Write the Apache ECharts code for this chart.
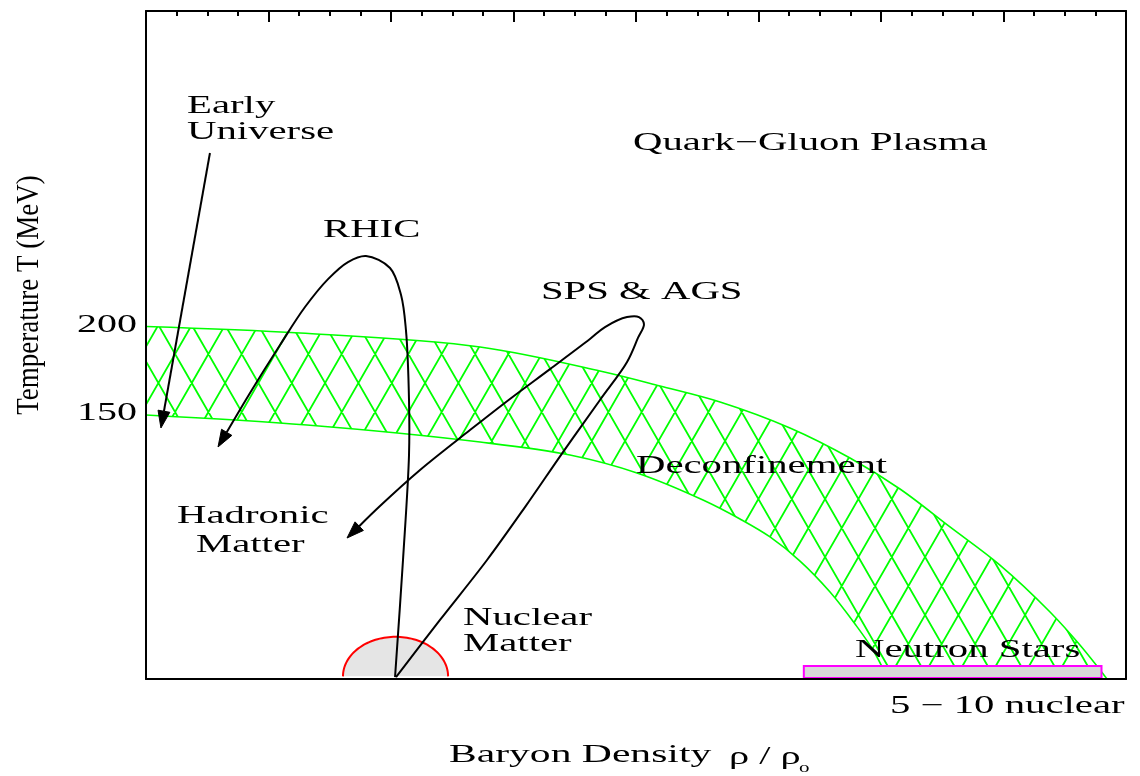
<!DOCTYPE html>
<html>
<head>
<meta charset="utf-8">
<script src="https://cdn.jsdelivr.net/npm/echarts@6/dist/echarts.min.js"></script>
<style>
html,body{margin:0;padding:0;background:#fff;}
#chart{width:1140px;height:776px;}
</style>
</head>
<body>
<div id="chart"></div>
<script>
// ---- data (x: baryon density rho/rho0, T: temperature MeV) ----
const upperX = [0, 1.257, 2.727, 3.706, 4.196, 4.686, 5.257, 5.747, 6.155, 6.563, 6.971, 7.380, 7.624, 7.845];
const upperT = [200.5, 196.8, 188.9, 175.2, 166.7, 157.6, 142.8, 125.7, 108.1, 86.5, 64.8, 38.1, 19.3, 0];
const lowerX = [0, 1.314, 2.727, 3.461, 4.008, 4.547, 4.849, 5.094, 5.339, 5.584, 5.788, 5.935, 6.057];
const lowerT = [150.2, 144.5, 134.8, 127.4, 117.2, 101.8, 91.0, 80.8, 67.1, 49.5, 31.3, 16.5, 0];

const earlyX = [0.522, 0.122];
const earlyT = [299.2, 142.8];
const rhicX = [2.033, 2.098, 2.147, 2.147, 2.122, 2.082, 1.992, 1.796, 1.649, 1.486, 1.298, 1.094, 0.849, 0.588];
const rhicT = [1.1, 67.7, 127.4, 158.7, 198.5, 218.4, 233.8, 240.6, 237.2, 227.5, 211.6, 190.0, 162.7, 132.0];
const spsX = [2.041, 2.400, 2.784, 3.094, 3.404, 3.706, 3.927, 4.016, 4.065, 4.024, 3.927, 3.747, 3.624, 3.298, 2.971, 2.645, 2.237, 1.910, 1.641];
const spsT = [1.1, 33.6, 67.7, 97.8, 129.1, 158.7, 180.3, 194.0, 201.9, 205.9, 205.9, 200.2, 193.4, 176.3, 159.3, 141.6, 118.9, 98.4, 80.2];

const nuclearCenter = [2.037, 1.5];
const nuclearRadius = [0.429, 22.5];
const neutronX = [5.37, 7.80];
const neutronT = [0.6, 7.4];

const yTickLabels = [150, 200];

const labelTexts = ['Early\nUniverse', 'Quark\u2212Gluon Plasma', 'RHIC', 'SPS & AGS', 'Deconfinement', 'Hadronic', 'Matter', 'Nuclear\nMatter', 'Neutron Stars'];
const labelX = [0.335, 3.976, 1.445, 3.224, 4.0, 0.253, 0.408, 2.588, 5.788];
const labelT = [318.5, 304.9, 255.4, 220.1, 121.2, 92.7, 76.2, 27.0, 16.5];

// ---- styling helpers ----
const SERIF = 'Liberation Serif';
const SX = 1.63;

function makeHatch() {
  const w = 100, h = 58, cw = w / 3;
  const cv = document.createElement('canvas');
  cv.width = w; cv.height = h;
  const ctx = cv.getContext('2d');
  ctx.strokeStyle = '#00ff00';
  ctx.lineWidth = 1.8;
  const ox = 8.4, oy = 6, s = cw / h;
  ctx.beginPath();
  for (let k = -8; k <= 12; k++) {
    const x0 = ox + k * cw;
    ctx.moveTo(x0 + s * (-h - oy), -h); ctx.lineTo(x0 + s * (2 * h - oy), 2 * h);
    ctx.moveTo(x0 - s * (-h - oy), -h); ctx.lineTo(x0 - s * (2 * h - oy), 2 * h);
  }
  ctx.stroke();
  return cv;
}
const hatch = makeHatch();

// centripetal Catmull-Rom through pixel points -> SVG path commands (no leading M)
function crSegments(p) {
  let d = '';
  const n = p.length;
  if (n === 2) return ' L' + p[1][0] + ' ' + p[1][1];
  const dist = (a, b) => Math.pow(Math.hypot(a[0] - b[0], a[1] - b[1]), 0.5);
  for (let i = 0; i < n - 1; i++) {
    const p0 = p[i - 1] || p[i], p1 = p[i], p2 = p[i + 1], p3 = p[i + 2] || p[i + 1];
    const d1 = dist(p0, p1), d2 = dist(p1, p2), d3 = dist(p2, p3);
    let c1, c2;
    if (d1 < 1e-6) c1 = p1.slice();
    else {
      const a = d1 * d1, b = d2 * d2, den = 3 * d1 * (d1 + d2);
      c1 = [0, 1].map(k => (a * p2[k] - b * p0[k] + (2 * a + 3 * d1 * d2 + b) * p1[k]) / den);
    }
    if (d3 < 1e-6) c2 = p2.slice();
    else {
      const a = d3 * d3, b = d2 * d2, den = 3 * d3 * (d3 + d2);
      c2 = [0, 1].map(k => (a * p1[k] - b * p3[k] + (2 * a + 3 * d3 * d2 + b) * p2[k]) / den);
    }
    d += ' C' + c1[0] + ' ' + c1[1] + ' ' + c2[0] + ' ' + c2[1] + ' ' + p2[0] + ' ' + p2[1];
  }
  return d;
}
function crPath(p) { return 'M' + p[0][0] + ' ' + p[0][1] + crSegments(p); }

function arrowSeries(name, xs, ts) {
  return {
    type: 'custom', name: name, coordinateSystem: 'cartesian2d', z: 6, silent: true, clip: false,
    data: xs.map((x, i) => [x, ts[i]]),
    renderItem: function (params, api) {
      if (params.dataIndex !== 0) return null;
      const pts = xs.map((x, i) => api.coord([x, ts[i]]));
      const n = pts.length;
      const tip = pts[n - 1], prev = pts[n - 2];
      let dx = tip[0] - prev[0], dy = tip[1] - prev[1];
      const len = Math.hypot(dx, dy); dx /= len; dy /= len;
      const L = 17, W = 6;
      const base = [tip[0] - dx * L, tip[1] - dy * L];
      const linePts = pts.slice(0, n - 1).concat([base]);
      return {
        type: 'group',
        children: [
          { type: 'path', shape: { pathData: crPath(linePts) }, style: { stroke: '#000', lineWidth: 2, fill: null } },
          { type: 'polygon', shape: { points: [tip, [base[0] - dy * W, base[1] + dx * W], [base[0] + dy * W, base[1] - dx * W]] }, style: { fill: '#000', stroke: '#000', lineWidth: 1 } }
        ]
      };
    }
  };
}

const chart = echarts.init(document.getElementById('chart'), null, { renderer: 'canvas' });

const option = {
  animation: false,
  backgroundColor: '#fff',
  grid: { left: 146, right: 14, top: 11, bottom: 97, outerBoundsMode: 'none' },
  xAxis: [
    {
      type: 'value', min: 0, max: 8, position: 'bottom', z: 10,
      axisLine: { show: true, onZero: false, lineStyle: { color: '#000', width: 2 } },
      axisTick: { show: false }, axisLabel: { show: false }, splitLine: { show: false }
    },
    {
      type: 'value', min: 0, max: 8, interval: 1, position: 'top', z: 10,
      axisLine: { show: true, onZero: false, lineStyle: { color: '#000', width: 2 } },
      axisTick: { show: true, inside: true, length: 11, lineStyle: { color: '#000', width: 2 } },
      minorTick: { show: true, splitNumber: 4, length: 5, lineStyle: { color: '#000', width: 2 } },
      axisLabel: { show: false }, splitLine: { show: false }, minorSplitLine: { show: false }
    }
  ],
  yAxis: [
    {
      type: 'value', min: 0, max: 380, interval: 50, position: 'left', z: 10,
      axisLine: { show: true, onZero: false, lineStyle: { color: '#000', width: 2 } },
      axisTick: { show: false }, axisLabel: { show: false }, splitLine: { show: false }
    },
    {
      type: 'value', min: 0, max: 380, position: 'right', z: 10,
      axisLine: { show: true, onZero: false, lineStyle: { color: '#000', width: 2 } },
      axisTick: { show: false }, axisLabel: { show: false }, splitLine: { show: false }
    }
  ],
  series: [
    {
      type: 'custom', name: 'Deconfinement', coordinateSystem: 'cartesian2d', z: 2, silent: true,
      data: upperX.map((x, i) => [x, upperT[i]]),
      renderItem: function (params, api) {
        if (params.dataIndex !== 0) return null;
        const up = upperX.map((x, i) => api.coord([x, upperT[i]]));
        const lo = lowerX.map((x, i) => api.coord([x, lowerT[i]]));
        const loRev = lo.slice().reverse();
        const area = crPath(up) + ' L' + loRev[0][0] + ' ' + loRev[0][1] + crSegments(loRev) + ' Z';
        return { type: 'group', children: [
          { type: 'path', shape: { pathData: area }, style: { fill: { image: hatch, repeat: 'repeat' }, stroke: null } },
          { type: 'path', shape: { pathData: crPath(up) }, style: { stroke: '#00ff00', lineWidth: 1.6, fill: null } },
          { type: 'path', shape: { pathData: crPath(lo) }, style: { stroke: '#00ff00', lineWidth: 1.6, fill: null } }
        ] };
      }
    },
    {
      type: 'custom', name: 'Neutron Stars', coordinateSystem: 'cartesian2d', z: 4, silent: true,
      data: [[neutronX[0], neutronT[0]]],
      renderItem: function (params, api) {
        const p0 = api.coord([neutronX[0], neutronT[1]]);
        const p1 = api.coord([neutronX[1], neutronT[0]]);
        return { type: 'rect', shape: { x: p0[0], y: p0[1], width: p1[0] - p0[0], height: p1[1] - p0[1] },
                 style: { fill: '#d9d9d9', stroke: '#ff00ff', lineWidth: 2 } };
      }
    },
    {
      type: 'custom', name: 'Nuclear Matter', coordinateSystem: 'cartesian2d', z: 4, silent: true,
      data: [nuclearCenter],
      renderItem: function (params, api) {
        const c = api.coord(nuclearCenter);
        const s = api.size(nuclearRadius);
        const pts = [];
        for (let k = 0; k <= 72; k++) {
          const a = Math.PI * k / 72;
          pts.push([c[0] + s[0] * Math.cos(a), c[1] - s[1] * Math.sin(a)]);
        }
        return { type: 'group', children: [
          { type: 'polygon', shape: { points: pts }, style: { fill: '#e5e5e5' } },
          { type: 'polyline', shape: { points: pts }, style: { stroke: '#ff0000', lineWidth: 2, fill: null } }
        ] };
      }
    },
    arrowSeries('Early Universe', earlyX, earlyT),
    arrowSeries('RHIC', rhicX, rhicT),
    arrowSeries('SPS & AGS', spsX, spsT),
    {
      type: 'custom', name: 'labels', coordinateSystem: 'cartesian2d', z: 7, silent: true, clip: false,
      data: labelX.map((x, i) => [x, labelT[i]]),
      renderItem: function (params, api) {
        const p = api.coord([api.value(0), api.value(1)]);
        return { type: 'text', x: p[0], y: p[1], scaleX: SX,
                 style: { text: labelTexts[params.dataIndex], fill: '#000', fontSize: 25, fontFamily: SERIF,
                          align: 'left', verticalAlign: 'middle', lineHeight: 26 } };
      }
    },
    {
      type: 'custom', name: 'y tick labels', coordinateSystem: 'cartesian2d', z: 7, silent: true, clip: false,
      data: yTickLabels.map(v => [0, v]),
      renderItem: function (params, api) {
        const p = api.coord([0, api.value(1)]);
        return { type: 'text', x: p[0] - 9, y: p[1] - 2, scaleX: 1.6,
                 style: { text: String(yTickLabels[params.dataIndex]), fill: '#000', fontSize: 25, fontFamily: SERIF,
                          align: 'right', verticalAlign: 'middle' } };
      }
    }
  ],
  graphic: [
    { type: 'text', x: 29, y: 295, rotation: Math.PI / 2, scaleY: 1.2, silent: true,
      style: { text: 'Temperature T (MeV)', fill: '#000', fontSize: 27, fontFamily: SERIF, align: 'center', verticalAlign: 'middle' } },
    { type: 'text', x: 449, y: 755, scaleX: 1.6, silent: true,
      style: { text: 'Baryon Density', fill: '#000', fontSize: 26, fontFamily: SERIF, align: 'left', verticalAlign: 'middle' } },
    { type: 'text', x: 729, y: 757, scaleX: 1.55, silent: true,
      style: { text: '\u03C1 / \u03C1', fill: '#000', fontSize: 26, fontFamily: SERIF, align: 'left', verticalAlign: 'middle' } },
    { type: 'text', x: 799, y: 768, scaleX: 1.4, silent: true,
      style: { text: 'o', fill: '#000', fontSize: 15, fontFamily: SERIF, align: 'left', verticalAlign: 'middle' } },
    { type: 'text', x: 890, y: 706, scaleX: SX, silent: true,
      style: { text: '5 \u2212 10 nuclear', fill: '#000', fontSize: 25, fontFamily: SERIF, align: 'left', verticalAlign: 'middle' } }
  ]
};
chart.setOption(option);
</script>
</body>
</html>
